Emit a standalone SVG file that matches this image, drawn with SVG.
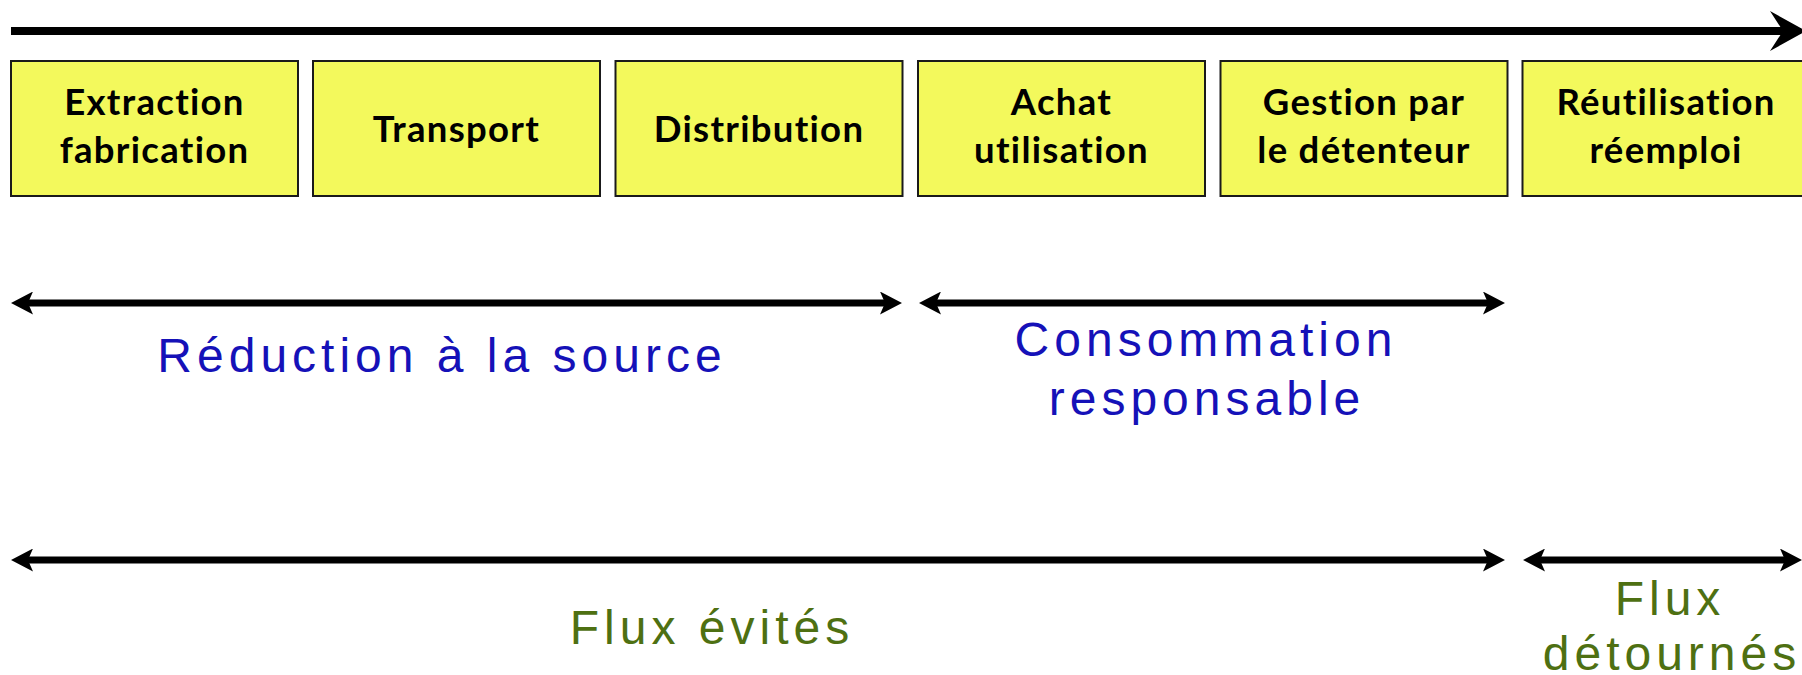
<svg xmlns="http://www.w3.org/2000/svg" width="1802" height="675" viewBox="0 0 1802 675">
<style>
.box{fill:#F3F95C;stroke:#1a1a1a;stroke-width:2}
.bt{font-family:Lato,"Open Sans",sans-serif;font-weight:bold;font-size:36.5px;letter-spacing:1.3px;fill:#000;text-anchor:middle}
.ln{stroke:#000;fill:none}
.blue{font-family:"Liberation Sans",Arial,sans-serif;font-size:48px;letter-spacing:5px;fill:#1511B8;text-anchor:middle}
.green{font-family:"Liberation Sans",Arial,sans-serif;font-size:48px;letter-spacing:5px;fill:#4E7012;text-anchor:middle}
</style>
<defs>
<marker id="big" markerUnits="userSpaceOnUse" viewBox="0 0 36 40" refX="13" refY="20" markerWidth="36" markerHeight="40" orient="auto-start-reverse">
<path d="M0,0 L36,20 L0,40 L13,20 Z" fill="#000"/>
</marker>
<marker id="sm" markerUnits="userSpaceOnUse" viewBox="0 0 22 23" refX="5" refY="11.5" markerWidth="22" markerHeight="23" orient="auto-start-reverse">
<path d="M0,0 L22,11.5 L0,23 L5,11.5 Z" fill="#000"/>
</marker>
</defs>
<rect width="1802" height="675" fill="#fff"/>
<g id="connectors">
<line class="ln" x1="11" y1="31" x2="1783" y2="31" stroke-width="8" marker-end="url(#big)"/>
<line class="ln" x1="28" y1="303" x2="885" y2="303" stroke-width="7" marker-start="url(#sm)" marker-end="url(#sm)"/>
<line class="ln" x1="936" y1="303" x2="1488" y2="303" stroke-width="7" marker-start="url(#sm)" marker-end="url(#sm)"/>
<line class="ln" x1="28" y1="560" x2="1488" y2="560" stroke-width="7" marker-start="url(#sm)" marker-end="url(#sm)"/>
<line class="ln" x1="1540" y1="560" x2="1785" y2="560" stroke-width="7" marker-start="url(#sm)" marker-end="url(#sm)"/>
</g>
<g id="n1"><rect class="box" x="11" y="61" width="287" height="135"/><text class="bt" x="154.5" y="115">Extraction</text><text class="bt" x="154.5" y="163">fabrication</text></g>
<g id="n2"><rect class="box" x="313" y="61" width="287" height="135"/><text class="bt" x="456.5" y="142">Transport</text></g>
<g id="n3"><rect class="box" x="615.5" y="61" width="287" height="135"/><text class="bt" x="759" y="142">Distribution</text></g>
<g id="n4"><rect class="box" x="918" y="61" width="287" height="135"/><text class="bt" x="1061.5" y="115">Achat</text><text class="bt" x="1061.5" y="163">utilisation</text></g>
<g id="n5"><rect class="box" x="1220.5" y="61" width="287" height="135"/><text class="bt" x="1364" y="115">Gestion par</text><text class="bt" x="1364" y="163">le détenteur</text></g>
<g id="n6"><rect class="box" x="1522.5" y="61" width="287" height="135"/><text class="bt" x="1666" y="115">Réutilisation</text><text class="bt" x="1666" y="163">réemploi</text></g>
<g id="labels">
<text class="blue" x="442" y="372">Réduction à la source</text>
<text class="blue" x="1206" y="356">Consommation</text>
<text class="blue" x="1207" y="415">responsable</text>
<text class="green" x="712" y="644">Flux évités</text>
<text class="green" x="1670" y="615">Flux</text>
<text class="green" x="1672" y="670">détournés</text>
</g>
</svg>
